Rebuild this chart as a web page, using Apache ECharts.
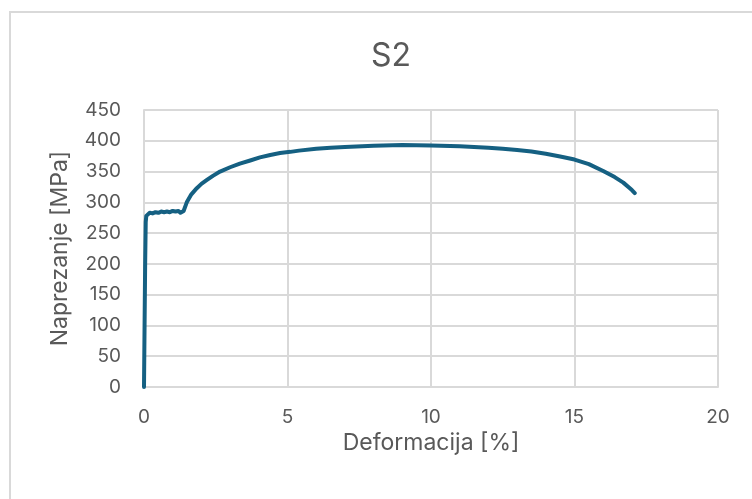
<!DOCTYPE html>
<html>
<head>
<meta charset="utf-8">
<script src="https://cdn.jsdelivr.net/npm/echarts@6/dist/echarts.min.js"></script>
<style>
  html, body { margin: 0; padding: 0; background: #fff; }
  #main { width: 752px; height: 499px; }
</style>
</head>
<body>
<div id="main"></div>
<script>
// S2 - stress/strain curve
const strain = [0, 0.02, 0.04, 0.06, 0.08, 0.12, 0.2, 0.3, 0.4, 0.5, 0.6, 0.7, 0.8, 0.9, 1.0, 1.1, 1.2, 1.27, 1.32,
  1.38, 1.49, 1.65, 1.84, 2.0, 2.18, 2.4, 2.65, 3.0, 3.34, 3.7, 4.04, 4.4, 4.74, 5.1, 5.4, 6.0, 6.5, 7.0, 8.0, 9.0,
  10.0, 11.0, 12.0, 12.5, 13.0, 13.5, 14.0, 14.5, 15.0, 15.5, 16.0, 16.4, 16.7, 17.0, 17.1];
const stress = [0, 100, 200, 268, 278, 281, 283, 282, 284, 283, 285, 284, 285, 284, 286, 285, 286, 283, 280,
  286, 300, 313, 323, 330, 336, 343, 350, 357, 363, 368, 373, 377, 380, 382, 384, 387, 388.5, 390, 392, 393,
  392.5, 391, 388.5, 387, 385, 382.5, 379, 374.5, 369.5, 362, 351, 341, 332, 320, 315];

const xTicks = { min: 0, max: 20, interval: 5 };
const yTicks = { min: 0, max: 450, interval: 50 };

const points = strain.map((x, i) => [x, stress[i]]);

const chart = echarts.init(document.getElementById('main'));
const textColor = '#595959';
const gridColor = '#d9d9d9';
const font = 'Inter, "Liberation Sans", sans-serif';

chart.setOption({
  animation: false,
  backgroundColor: '#fff',
  graphic: [{
    type: 'rect',
    shape: { x: 10, y: 12, width: 800, height: 600 },
    style: { fill: 'none', stroke: gridColor, lineWidth: 2 },
    silent: true
  }],
  title: {
    text: 'S2',
    left: 386,
    top: 35,
    textAlign: 'center',
    textStyle: { color: textColor, fontSize: 32, fontWeight: 'normal', fontFamily: font }
  },
  grid: { left: 144, top: 110, right: 34, bottom: 112, containLabel: false },
  xAxis: {
    type: 'value',
    min: xTicks.min, max: xTicks.max, interval: xTicks.interval,
    name: 'Deformacija [%]',
    nameLocation: 'middle',
    nameGap: 42,
    nameTextStyle: { color: textColor, fontSize: 23, fontFamily: font },
    axisLine: { show: true, lineStyle: { color: gridColor, width: 2 } },
    axisTick: { show: false },
    axisLabel: { color: textColor, fontSize: 19, margin: 21, fontFamily: font },
    splitLine: { show: true, lineStyle: { color: gridColor, width: 2 } }
  },
  yAxis: {
    type: 'value',
    min: yTicks.min, max: yTicks.max, interval: yTicks.interval,
    name: 'Naprezanje [MPa]',
    nameLocation: 'middle',
    nameGap: 72,
    nameTextStyle: { color: textColor, fontSize: 23, fontFamily: font },
    axisLine: { show: true, lineStyle: { color: gridColor, width: 2 } },
    axisTick: { show: false },
    axisLabel: { color: textColor, fontSize: 19, margin: 23, fontFamily: font },
    splitLine: { show: true, lineStyle: { color: gridColor, width: 2 } }
  },
  series: [{
    type: 'line',
    data: points,
    showSymbol: false,
    smooth: false,
    lineStyle: { color: '#156082', width: 4, cap: 'round', join: 'round' },
    itemStyle: { color: '#156082' }
  }]
});
</script>
</body>
</html>
